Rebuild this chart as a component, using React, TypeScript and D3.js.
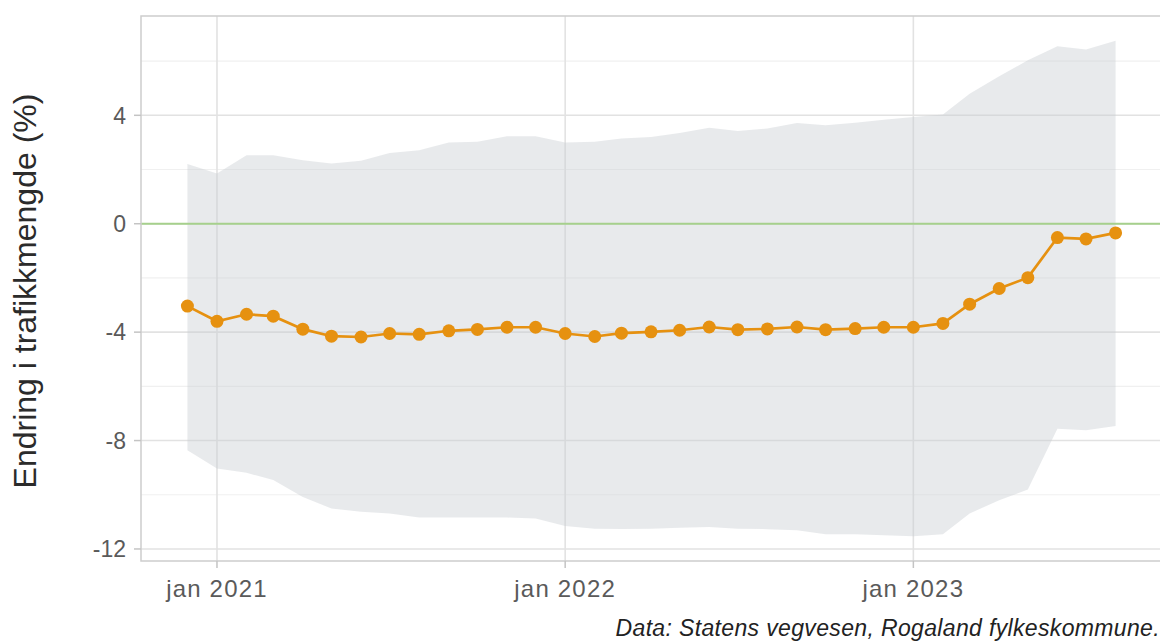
import React from 'react';
import * as d3 from 'd3';

// chart size, panel box from the reference
const W = 1160;
const H = 641;
const panel = { left: 141, top: 16, right: 1162, bottom: 561 };

// monthly points, Dec 2020 - Aug 2023
const months = [
  '2020-12', '2021-01', '2021-02', '2021-03', '2021-04', '2021-05', '2021-06',
  '2021-07', '2021-08', '2021-09', '2021-10', '2021-11', '2021-12', '2022-01',
  '2022-02', '2022-03', '2022-04', '2022-05', '2022-06', '2022-07', '2022-08',
  '2022-09', '2022-10', '2022-11', '2022-12', '2023-01', '2023-02', '2023-03',
  '2023-04', '2023-05', '2023-06', '2023-07', '2023-08'
];

// change in traffic volume (%)
const change = [
  -3.04, -3.6, -3.34, -3.41, -3.89, -4.15, -4.18, -4.05, -4.08, -3.95, -3.9,
  -3.82, -3.82, -4.05, -4.16, -4.04, -3.99, -3.93, -3.81, -3.91, -3.88, -3.81,
  -3.91, -3.87, -3.82, -3.82, -3.68, -2.97, -2.39, -1.99, -0.51, -0.56, -0.34
];

// ribbon bounds
const lower = [
  -8.36, -9.03, -9.19, -9.46, -10.08, -10.51, -10.63, -10.69, -10.84, -10.84,
  -10.84, -10.84, -10.88, -11.15, -11.25, -11.26, -11.25, -11.22, -11.19,
  -11.25, -11.27, -11.31, -11.46, -11.46, -11.49, -11.53, -11.46, -10.69,
  -10.2, -9.81, -7.56, -7.62, -7.46
];
const upper = [
  2.2, 1.85, 2.53, 2.53, 2.34, 2.22, 2.32, 2.61, 2.71, 3.0, 3.02, 3.23, 3.23,
  3.0, 3.02, 3.14, 3.2, 3.35, 3.54, 3.42, 3.51, 3.72, 3.63, 3.73, 3.84, 3.94,
  4.03, 4.8, 5.44, 6.03, 6.55, 6.43, 6.75
];

const yMajor = [-12, -8, -4, 0, 4];
const yMinor = [-10, -6, -2, 2, 6];
const xTicks = ['2021-01', '2022-01', '2023-01'];
const xTickLabels = ['jan 2021', 'jan 2022', 'jan 2023'];

const font = '"Liberation Sans", Arial, sans-serif';
const orange = '#e69110';

const parse = d3.timeParse('%Y-%m');

export default function App() {
  const dates = months.map(m => parse(m) as Date);
  const rows = dates.map((d, i) => ({ d, v: change[i], lo: lower[i], hi: upper[i] }));

  // ggplot-style 5% expansion on both axes
  const [t0, t1] = d3.extent(dates) as [Date, Date];
  const tPad = (+t1 - +t0) * 0.05;
  const x = d3
    .scaleTime()
    .domain([new Date(+t0 - tPad), new Date(+t1 + tPad)])
    .range([panel.left, panel.right]);

  const yMin = d3.min(lower) as number;
  const yMax = d3.max(upper) as number;
  const yPad = (yMax - yMin) * 0.05;
  const y = d3
    .scaleLinear()
    .domain([yMin - yPad, yMax + yPad])
    .range([panel.bottom, panel.top]);

  const area = d3
    .area<any>()
    .x(r => x(r.d))
    .y0(r => y(r.lo))
    .y1(r => y(r.hi));
  const line = d3
    .line<any>()
    .x(r => x(r.d))
    .y(r => y(r.v));

  return (
    <svg width={W} height={H} style={{ position: 'absolute', left: 0, top: 0 }} fontFamily={font}>
      <rect x={0} y={0} width={W} height={H} fill="#fff" />
      <clipPath id="panel">
        <rect x={panel.left} y={panel.top} width={panel.right - panel.left} height={panel.bottom - panel.top} />
      </clipPath>

      {/* grid */}
      {yMinor.map(v => (
        <line key={'mi' + v} x1={panel.left} x2={panel.right} y1={y(v)} y2={y(v)} stroke="#f0f0f0" strokeWidth={1.2} />
      ))}
      {yMajor.map(v => (
        <line key={'ma' + v} x1={panel.left} x2={panel.right} y1={y(v)} y2={y(v)} stroke="#e2e2e2" strokeWidth={1.6} />
      ))}
      {xTicks.map(t => (
        <line key={'vx' + t} x1={x(parse(t) as Date)} x2={x(parse(t) as Date)} y1={panel.top} y2={panel.bottom} stroke="#e2e2e2" strokeWidth={1.6} />
      ))}

      {/* confidence ribbon */}
      <path d={area(rows) || ''} fill="#c9ccd2" fillOpacity={0.42} />

      {/* zero line */}
      <line x1={panel.left} x2={panel.right} y1={y(0)} y2={y(0)} stroke="#a6d08c" strokeWidth={2} />

      {/* series */}
      <g clipPath="url(#panel)">
        <path d={line(rows) || ''} fill="none" stroke={orange} strokeWidth={2.7} />
        {rows.map((r, i) => (
          <circle key={i} cx={x(r.d)} cy={y(r.v)} r={6.5} fill={orange} />
        ))}
      </g>

      {/* panel border */}
      <rect
        x={panel.left}
        y={panel.top}
        width={panel.right - panel.left}
        height={panel.bottom - panel.top}
        fill="none"
        stroke="#cdcdcd"
        strokeWidth={1.5}
      />

      {/* y axis */}
      {yMajor.map(v => (
        <g key={'yt' + v}>
          <line x1={panel.left - 7} x2={panel.left} y1={y(v)} y2={y(v)} stroke="#c4c4c4" strokeWidth={1.5} />
          <text x={panel.left - 15} y={y(v)} dy="0.36em" textAnchor="end" fontSize={23} fill="#5a5a5a">
            {v}
          </text>
        </g>
      ))}

      {/* x axis */}
      {xTicks.map((t, i) => (
        <g key={'xt' + t}>
          <line x1={x(parse(t) as Date)} x2={x(parse(t) as Date)} y1={panel.bottom} y2={panel.bottom + 7} stroke="#c4c4c4" strokeWidth={1.5} />
          <text x={x(parse(t) as Date)} y={597} textAnchor="middle" fontSize={24} letterSpacing={1.2} fill="#5a5a5a">
            {xTickLabels[i]}
          </text>
        </g>
      ))}

      <text transform="translate(36,291) rotate(-90)" textAnchor="middle" fontSize={32} fill="#2b2b2b">
        Endring i trafikkmengde (%)
      </text>

      <text x={1160} y={636} textAnchor="end" fontSize={23} letterSpacing={0.35} fontStyle="italic" fill="#222">
        Data: Statens vegvesen, Rogaland fylkeskommune.
      </text>
    </svg>
  );
}
